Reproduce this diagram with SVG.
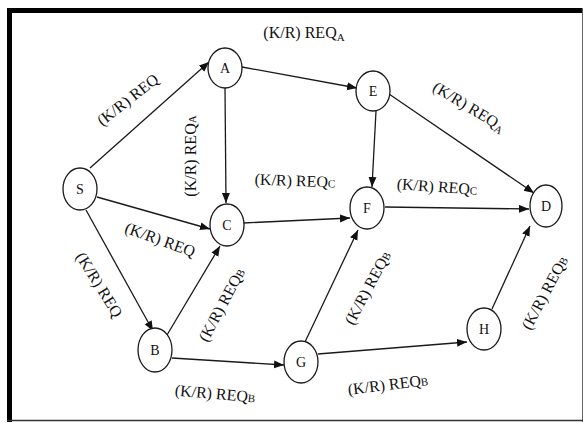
<svg xmlns="http://www.w3.org/2000/svg" width="583" height="423" viewBox="0 0 583 423">
<style>
.node ellipse{fill:#fff;stroke:#1a1a1a;stroke-width:1.3}
.node text{font-family:"Liberation Serif",serif;font-size:14px;fill:#111;text-anchor:middle}
.edge{stroke:#1a1a1a;stroke-width:1.3;fill:none;marker-end:url(#ah)}
.lbl{font-family:"Liberation Serif",serif;font-size:16px;fill:#111;text-anchor:middle}
.sub{font-size:11px}
</style>
<defs>
<marker id="ah" markerUnits="userSpaceOnUse" markerWidth="11" markerHeight="9" refX="10" refY="4" orient="auto">
<path d="M0,0 L10,4 L0,8 z" fill="#111"/>
</marker>
</defs>
<rect x="0" y="0" width="583" height="423" fill="#fff"/>
<g id="frame">
<rect x="7" y="8" width="576" height="5" fill="#000"/>
<rect x="7" y="8" width="5" height="414" fill="#000"/>
<line x1="582.5" y1="8" x2="582.5" y2="422" stroke="#666" stroke-width="1"/>
<line x1="7" y1="420.5" x2="583" y2="420.5" stroke="#333" stroke-width="1.5"/>
</g>
<g id="connectors">
<line class="edge" x1="90" y1="168" x2="209" y2="62"/>
<line class="edge" x1="242" y1="67" x2="357" y2="88"/>
<line class="edge" x1="225" y1="88" x2="226" y2="203"/>
<line class="edge" x1="97" y1="197" x2="210" y2="229"/>
<line class="edge" x1="86" y1="210" x2="153" y2="331"/>
<line class="edge" x1="167" y1="335" x2="220" y2="246"/>
<line class="edge" x1="172" y1="358" x2="284" y2="365"/>
<line class="edge" x1="243" y1="223" x2="350" y2="218"/>
<line class="edge" x1="376" y1="111" x2="372" y2="187"/>
<line class="edge" x1="389" y1="94" x2="534" y2="193"/>
<line class="edge" x1="385" y1="207" x2="529" y2="209"/>
<line class="edge" x1="305" y1="342" x2="358" y2="230"/>
<line class="edge" x1="318" y1="354" x2="467" y2="342"/>
<line class="edge" x1="492" y1="309" x2="530" y2="226"/>
</g>
<g id="node-S" class="node"><ellipse cx="80" cy="189" rx="17" ry="21"/><text x="80" y="194">S</text></g>
<g id="node-A" class="node"><ellipse cx="225" cy="68" rx="17" ry="20"/><text x="225" y="73">A</text></g>
<g id="node-E" class="node"><ellipse cx="373" cy="91" rx="17" ry="20"/><text x="373" y="96">E</text></g>
<g id="node-C" class="node"><ellipse cx="227" cy="225" rx="17" ry="21"/><text x="227" y="230">C</text></g>
<g id="node-F" class="node"><ellipse cx="367" cy="208" rx="17" ry="21"/><text x="367" y="213">F</text></g>
<g id="node-D" class="node"><ellipse cx="546" cy="206" rx="16" ry="21"/><text x="546" y="211">D</text></g>
<g id="node-B" class="node"><ellipse cx="155" cy="350" rx="17" ry="22"/><text x="155" y="355">B</text></g>
<g id="node-G" class="node"><ellipse cx="301" cy="362" rx="17" ry="21"/><text x="301" y="367">G</text></g>
<g id="node-H" class="node"><ellipse cx="484" cy="329" rx="17" ry="21"/><text x="484" y="334">H</text></g>
<g id="labels">
<text class="lbl" transform="translate(304,33)" y="5">(K/R) REQ<tspan class="sub" dy="3">A</tspan></text>
<text class="lbl" transform="translate(128,100) rotate(-38)" y="5">(K/R) REQ</text>
<text class="lbl" transform="translate(191,156) rotate(-90)" y="5">(K/R) REQ<tspan class="sub">A</tspan></text>
<text class="lbl" transform="translate(295,181) rotate(2)" y="5">(K/R) REQ<tspan class="sub">C</tspan></text>
<text class="lbl" transform="translate(160,240) rotate(20)" y="5">(K/R) REQ</text>
<text class="lbl" transform="translate(99,285) rotate(58)" y="5">(K/R) REQ</text>
<text class="lbl" transform="translate(222,305) rotate(-62)" y="5">(K/R) REQ<tspan class="sub">B</tspan></text>
<text class="lbl" transform="translate(215,394) rotate(5)" y="5">(K/R) REQ<tspan class="sub">B</tspan></text>
<text class="lbl" transform="translate(469,107) rotate(31)" y="5">(K/R) REQ<tspan class="sub" dy="3">A</tspan></text>
<text class="lbl" transform="translate(437,187) rotate(4)" y="5">(K/R) REQ<tspan class="sub">C</tspan></text>
<text class="lbl" transform="translate(368,288) rotate(-62)" y="5">(K/R) REQ<tspan class="sub">B</tspan></text>
<text class="lbl" transform="translate(388,385) rotate(-7)" y="5">(K/R) REQ<tspan class="sub">B</tspan></text>
<text class="lbl" transform="translate(545,293) rotate(-62)" y="5">(K/R) REQ<tspan class="sub">B</tspan></text>
</g>
</svg>
